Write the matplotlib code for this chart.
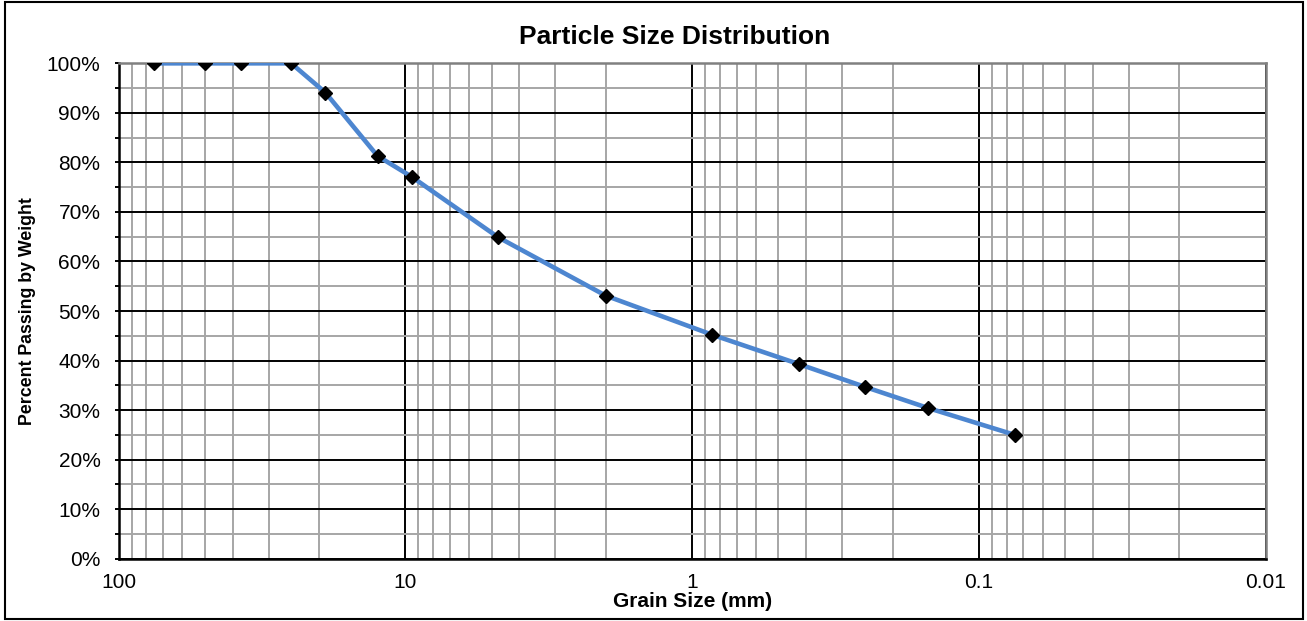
import numpy as np
import matplotlib.pyplot as plt
from matplotlib.patches import Rectangle
from matplotlib.ticker import LogLocator, MultipleLocator, FuncFormatter

# Sieve sizes (mm) and percent passing
grain_size = [75, 50, 37.5, 25, 19, 12.5, 9.5, 4.75, 2.0, 0.85, 0.425, 0.25, 0.15, 0.075]
pct_passing = [100, 100, 100, 100, 94.1, 81.3, 77.1, 64.9, 53.1, 45.2, 39.3, 34.7, 30.4, 25.0]

x_ticks = [100, 10, 1, 0.1, 0.01]
x_tick_labels = ['100', '10', '1', '0.1', '0.01']

plt.rcParams['font.family'] = ['Liberation Sans', 'DejaVu Sans']

fig = plt.figure(figsize=(13.07, 6.21), dpi=100)
ax = fig.add_axes([0.0907, 0.1003, 0.8777, 0.7977])

ax.set_xscale('log')
ax.set_xlim(100, 0.01)
ax.set_ylim(0, 100)

# grid
ax.xaxis.set_major_locator(LogLocator(base=10, numticks=10))
ax.xaxis.set_minor_locator(LogLocator(base=10, subs=np.arange(2, 10), numticks=10))
ax.yaxis.set_major_locator(MultipleLocator(10))
ax.yaxis.set_minor_locator(MultipleLocator(5))
ax.grid(True, which='major', color='black', linewidth=1.4)
ax.grid(True, which='minor', color='#a6a6a6', linewidth=1.4)
ax.set_axisbelow(True)

ax.set_xticks(x_ticks)
ax.set_xticklabels(x_tick_labels)
ax.xaxis.set_minor_formatter(FuncFormatter(lambda v, p: ''))
ax.yaxis.set_major_formatter(FuncFormatter(lambda v, p: f'{v:.0f}%'))

ax.tick_params(axis='x', which='both', length=0, pad=10, labelsize=15)
ax.tick_params(axis='y', which='both', direction='out', length=3, width=1.4,
               pad=10, labelsize=15, color='black')

for side in ['left', 'bottom']:
    ax.spines[side].set_color('black')
    ax.spines[side].set_linewidth(1.8)
for side in ['top', 'right']:
    ax.spines[side].set_color('#808080')
    ax.spines[side].set_linewidth(1.8)

ax.plot(grain_size, pct_passing, color='#4d86d0', linewidth=3.3,
        marker='D', markersize=7, markerfacecolor='black',
        markeredgecolor='black', zorder=3)

ax.set_xlabel('Grain Size (mm)', fontsize=15, fontweight='bold', labelpad=0)
ax.set_ylabel('Percent Passing by Weight', fontsize=12.8, fontweight='bold', labelpad=8)

fig.text(0.5165, 0.940, 'Particle Size Distribution', fontsize=19,
         fontweight='bold', ha='center', va='center')

# chart border
fig.patches.append(Rectangle((0.004, 0.003), 0.993, 0.994, transform=fig.transFigure,
                             fill=False, edgecolor='black', linewidth=1.5))

plt.savefig('out.png', dpi=100)
